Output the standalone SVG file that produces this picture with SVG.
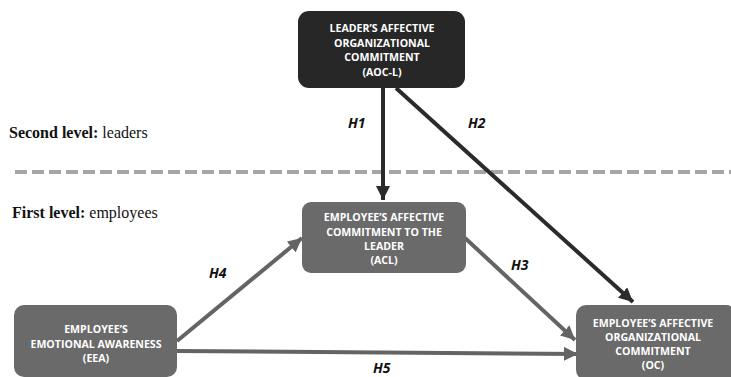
<svg xmlns="http://www.w3.org/2000/svg" width="731" height="377" viewBox="0 0 731 377">
<defs>
<style>
.box{stroke:none}
.dark{fill:#272727}
.mid{fill:#6a6a6a}
.bt{font-family:"Open Sans","Liberation Sans",sans-serif;font-weight:bold;font-size:10.6px;fill:#ffffff;text-anchor:middle}
.hl{font-family:"Open Sans","Liberation Sans",sans-serif;font-weight:bold;font-style:italic;font-size:14px;fill:#111}
.lv{font-family:"Liberation Serif","Times New Roman",serif;font-size:16px;fill:#111}
.cd{stroke:#2b2b2b;stroke-width:4;fill:none}
.cm{stroke:#646464;stroke-width:4;fill:none}
</style>
<marker id="ad" markerUnits="userSpaceOnUse" markerWidth="14" markerHeight="14" viewBox="0 0 14 14" refX="14" refY="7" orient="auto"><path d="M0,0 L14,7 L0,14 z" fill="#2b2b2b"/></marker>
<marker id="am" markerUnits="userSpaceOnUse" markerWidth="14" markerHeight="14" viewBox="0 0 14 14" refX="14" refY="7" orient="auto"><path d="M0,0 L14,7 L0,14 z" fill="#646464"/></marker>
</defs>
<rect width="731" height="377" fill="#ffffff"/>
<text class="lv" x="9" y="138"><tspan font-weight="bold">Second level:</tspan> leaders</text>
<text class="lv" x="12" y="218"><tspan font-weight="bold">First level:</tspan> employees</text>
<line x1="15" y1="172" x2="731" y2="172" stroke="#a6a6a6" stroke-width="4" stroke-dasharray="12,5"/>
<g id="connectors">
<line class="cd" x1="383" y1="88" x2="383" y2="200" marker-end="url(#ad)"/>
<line class="cd" x1="396" y1="88" x2="633" y2="302" marker-end="url(#ad)"/>
<line class="cm" x1="465" y1="238" x2="575" y2="340" marker-end="url(#am)"/>
<line class="cm" x1="177" y1="341" x2="302" y2="238" marker-end="url(#am)"/>
<line class="cm" x1="177" y1="351" x2="578" y2="354" marker-end="url(#am)"/>
<text class="hl" x="348" y="128">H1</text>
<text class="hl" x="468" y="128">H2</text>
<text class="hl" x="511" y="270">H3</text>
<text class="hl" x="209" y="278">H4</text>
<text class="hl" x="373" y="373">H5</text>
</g>
<g id="aocl">
<rect class="box dark" x="298" y="11" width="167" height="77" rx="11"/>
<text class="bt" x="382" y="32">LEADER’S AFFECTIVE</text>
<text class="bt" x="382" y="47">ORGANIZATIONAL</text>
<text class="bt" x="382" y="61">COMMITMENT</text>
<text class="bt" x="382" y="76">(AOC-L)</text>
</g>
<g id="acl">
<rect class="box mid" x="302" y="202" width="164" height="71" rx="9"/>
<text class="bt" x="384" y="221">EMPLOYEE’S AFFECTIVE</text>
<text class="bt" x="384" y="236">COMMITMENT TO THE</text>
<text class="bt" x="384" y="250">LEADER</text>
<text class="bt" x="384" y="264">(ACL)</text>
</g>
<g id="eea">
<rect class="box mid" x="14" y="305" width="163" height="72" rx="10"/>
<text class="bt" x="96" y="333">EMPLOYEE’S</text>
<text class="bt" x="96" y="348">EMOTIONAL AWARENESS</text>
<text class="bt" x="96" y="362">(EEA)</text>
</g>
<g id="oc">
<rect class="box mid" x="576" y="305" width="160" height="75" rx="10"/>
<text class="bt" x="653" y="327">EMPLOYEE’S AFFECTIVE</text>
<text class="bt" x="653" y="341">ORGANIZATIONAL</text>
<text class="bt" x="653" y="355">COMMITMENT</text>
<text class="bt" x="653" y="369">(OC)</text>
</g>
</svg>
